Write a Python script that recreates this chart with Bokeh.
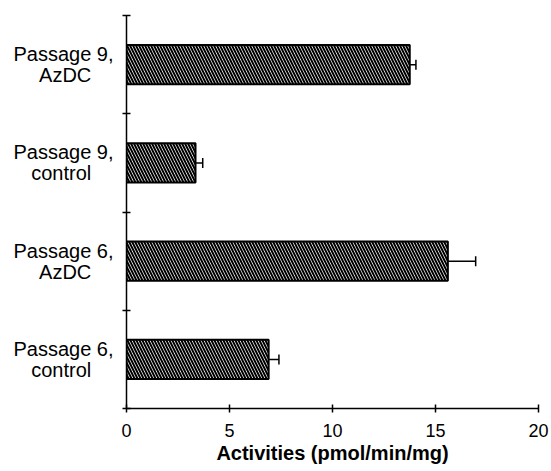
from bokeh.plotting import figure
from bokeh.models import Range1d, FixedTicker, Whisker, TeeHead, ColumnDataSource
from bokeh.embed import file_html
from bokeh.resources import INLINE

categories = ["Passage 6,\ncontrol", "Passage 6,\nAzDC", "Passage 9,\ncontrol", "Passage 9,\nAzDC"]
activities = [6.9, 15.6, 3.35, 13.75]
errors = [0.5, 1.35, 0.35, 0.3]
x_ticks = [0, 5, 10, 15, 20]

pos = [i + 0.5 for i in range(len(categories))]
upper = [a + e for a, e in zip(activities, errors)]
src = ColumnDataSource(dict(y=pos, right=activities, upper=upper))

p = figure(width=549, height=470, output_backend="svg", toolbar_location=None,
           x_range=Range1d(0, 20), y_range=Range1d(0, len(categories)),
           min_border_left=126, min_border_right=11, min_border_top=15, min_border_bottom=62)
p.outline_line_color = None
p.grid.grid_line_color = None
p.background_fill_color = "white"

p.hbar(y="y", right="right", left=0, height=0.4, source=src,
       fill_color="white", line_color="black", line_width=2,
       hatch_pattern="\\", hatch_color="black", hatch_scale=6, hatch_weight=2)

w = Whisker(source=src, base="y", lower="right", upper="upper", dimension="width",
            line_color="black", line_width=1.5,
            upper_head=TeeHead(size=10, line_width=1.5, line_color="black"),
            lower_head=None)
p.add_layout(w)

xa = p.xaxis[0]
xa.ticker = FixedTicker(ticks=x_ticks, minor_ticks=[])
xa.major_tick_in = 4
xa.major_tick_out = 4
xa.axis_line_width = 1.5
xa.major_tick_line_width = 1.5
xa.major_label_text_font = "Liberation Sans"
xa.major_label_text_font_size = "18px"
xa.major_label_text_color = "black"
xa.major_label_standoff = 11
xa.axis_label = "Activities (pmol/min/mg)"
xa.axis_label_text_font = "Liberation Sans"
xa.axis_label_text_font_style = "bold"
xa.axis_label_text_font_size = "20px"
xa.axis_label_text_color = "black"
xa.axis_label_standoff = 2

# pad the short second line so that the two lines read as centred
NBSP = "\u00a0"
def centred(label):
    first, second = label.split("\n")
    return first + "\n" + second + NBSP * 4

ya = p.yaxis[0]
ya.ticker = FixedTicker(ticks=pos, minor_ticks=list(range(len(categories) + 1)))
ya.major_label_overrides = {pv: centred(c) for pv, c in zip(pos, categories)}
ya.major_tick_in = 0
ya.major_tick_out = 0
ya.minor_tick_in = 4
ya.minor_tick_out = 4
ya.minor_tick_line_width = 1.5
ya.minor_tick_line_color = "black"
ya.axis_line_width = 1.5
ya.major_label_text_font = "Liberation Sans"
ya.major_label_text_font_size = "20px"
ya.major_label_text_color = "black"
ya.major_label_text_line_height = 0.95
ya.major_label_standoff = 9

open("out.html", "w").write(file_html(p, INLINE))
